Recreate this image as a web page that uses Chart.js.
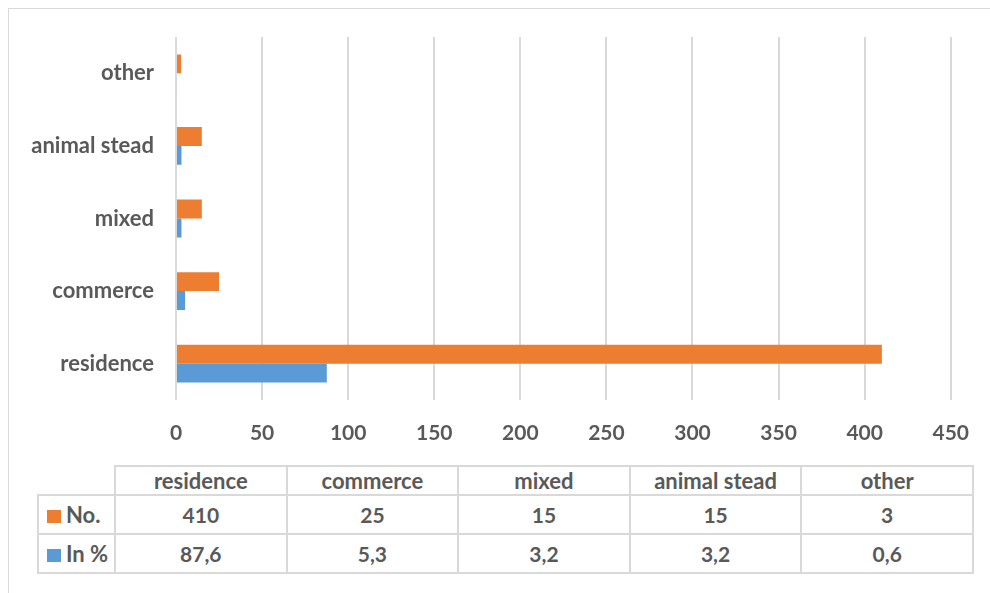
<!DOCTYPE html>
<html>
<head>
<meta charset="utf-8">
<script src="https://cdn.jsdelivr.net/npm/chart.js@4/dist/chart.umd.min.js"></script>
<style>
  html, body { margin: 0; padding: 0; background: #fff; }
  body { width: 990px; height: 593px; position: relative; overflow: hidden; font-family: Lato, sans-serif; }
  #frame {
    position: absolute; left: 8px; top: 8px; width: 990px; height: 600px;
    border-top: 1px solid #d9d9d9; border-left: 1px solid #d9d9d9;
  }
  #usageChart { position: absolute; left: 0; top: 0; }
  #dataTable {
    position: absolute; left: 37px; top: 465px;
    border-collapse: collapse; color: #595959;
    font-weight: bold; font-size: 21px; table-layout: fixed;
  }
  #dataTable td { border: 2px solid #d9d9d9; text-align: center; padding: 0; }
  #dataTable tr.head td { height: 26px; font-size: 22px; }
  #dataTable tr.row td { height: 37px; }
  #dataTable td.key { text-align: left; padding-left: 8px; white-space: nowrap; font-size: 22px; }
  #dataTable td.blank { border: none; }
  .swatch { display: inline-block; width: 14px; height: 13px; margin-right: 5px; vertical-align: 0px; }
</style>
</head>
<body>
<div id="frame"></div>
<canvas id="usageChart" width="990" height="455"></canvas>
<table id="dataTable"></table>

<script>
// building use categories, listed bottom to top as on the axis
const categories = ['residence', 'commerce', 'mixed', 'animal stead', 'other'];
const countValues = [410, 25, 15, 15, 3];
const percentValues = [87.6, 5.3, 3.2, 3.2, 0.6];
const tickValues = [0, 50, 100, 150, 200, 250, 300, 350, 400, 450];

const ORANGE = '#ED7D31';
const BLUE = '#5B9BD5';
const TEXT = '#595959';
const GRID = '#d9d9d9';

const series = [
  { label: 'No.', data: countValues, color: ORANGE, fmt: v => String(v) },
  { label: 'In %', data: percentValues, color: BLUE, fmt: v => v.toFixed(1).replace('.', ',') }
];

const ctx = document.getElementById('usageChart');
const chart = new Chart(ctx, {
  type: 'bar',
  data: {
    labels: categories,
    datasets: series.map(s => ({
      label: s.label,
      data: s.data,
      backgroundColor: s.color,
      categoryPercentage: 0.52,
      barPercentage: 1.0
    }))
  },
  options: {
    indexAxis: 'y',
    responsive: false,
    animation: false,
    devicePixelRatio: 1,
    layout: { padding: { left: 0, right: 37, top: 37, bottom: 0 } },
    plugins: {
      legend: { display: false },
      tooltip: { enabled: false }
    },
    scales: {
      x: {
        min: 0,
        max: 450,
        afterBuildTicks: (scale) => { scale.ticks = tickValues.map(v => ({ value: v })); },
        afterFit: (scale) => { scale.height = 55; },
        grid: { color: GRID, lineWidth: 2, drawTicks: false },
        border: { display: false },
        ticks: {
          color: TEXT,
          padding: 21,
          font: { family: 'Lato', size: 21, weight: 'bold' }
        }
      },
      y: {
        reverse: true,
        afterFit: (scale) => { scale.width = 176; },
        grid: { display: false, drawTicks: false },
        border: { display: false },
        ticks: {
          color: TEXT,
          padding: 22,
          font: { family: 'Lato', size: 22, weight: 'bold' }
        }
      }
    }
  }
});

// data table under the chart
const table = document.getElementById('dataTable');
let html = '<colgroup><col style="width:77px">' +
  categories.map(() => '<col style="width:171.6px">').join('') + '</colgroup>';
html += '<tr class="head"><td class="blank"></td>' +
  categories.map(c => '<td>' + c + '</td>').join('') + '</tr>';
series.forEach(s => {
  html += '<tr class="row"><td class="key"><span class="swatch" style="background:' + s.color + '"></span>' +
    s.label + '</td>' + s.data.map(v => '<td>' + s.fmt(v) + '</td>').join('') + '</tr>';
});
table.innerHTML = html;
</script>
</body>
</html>
